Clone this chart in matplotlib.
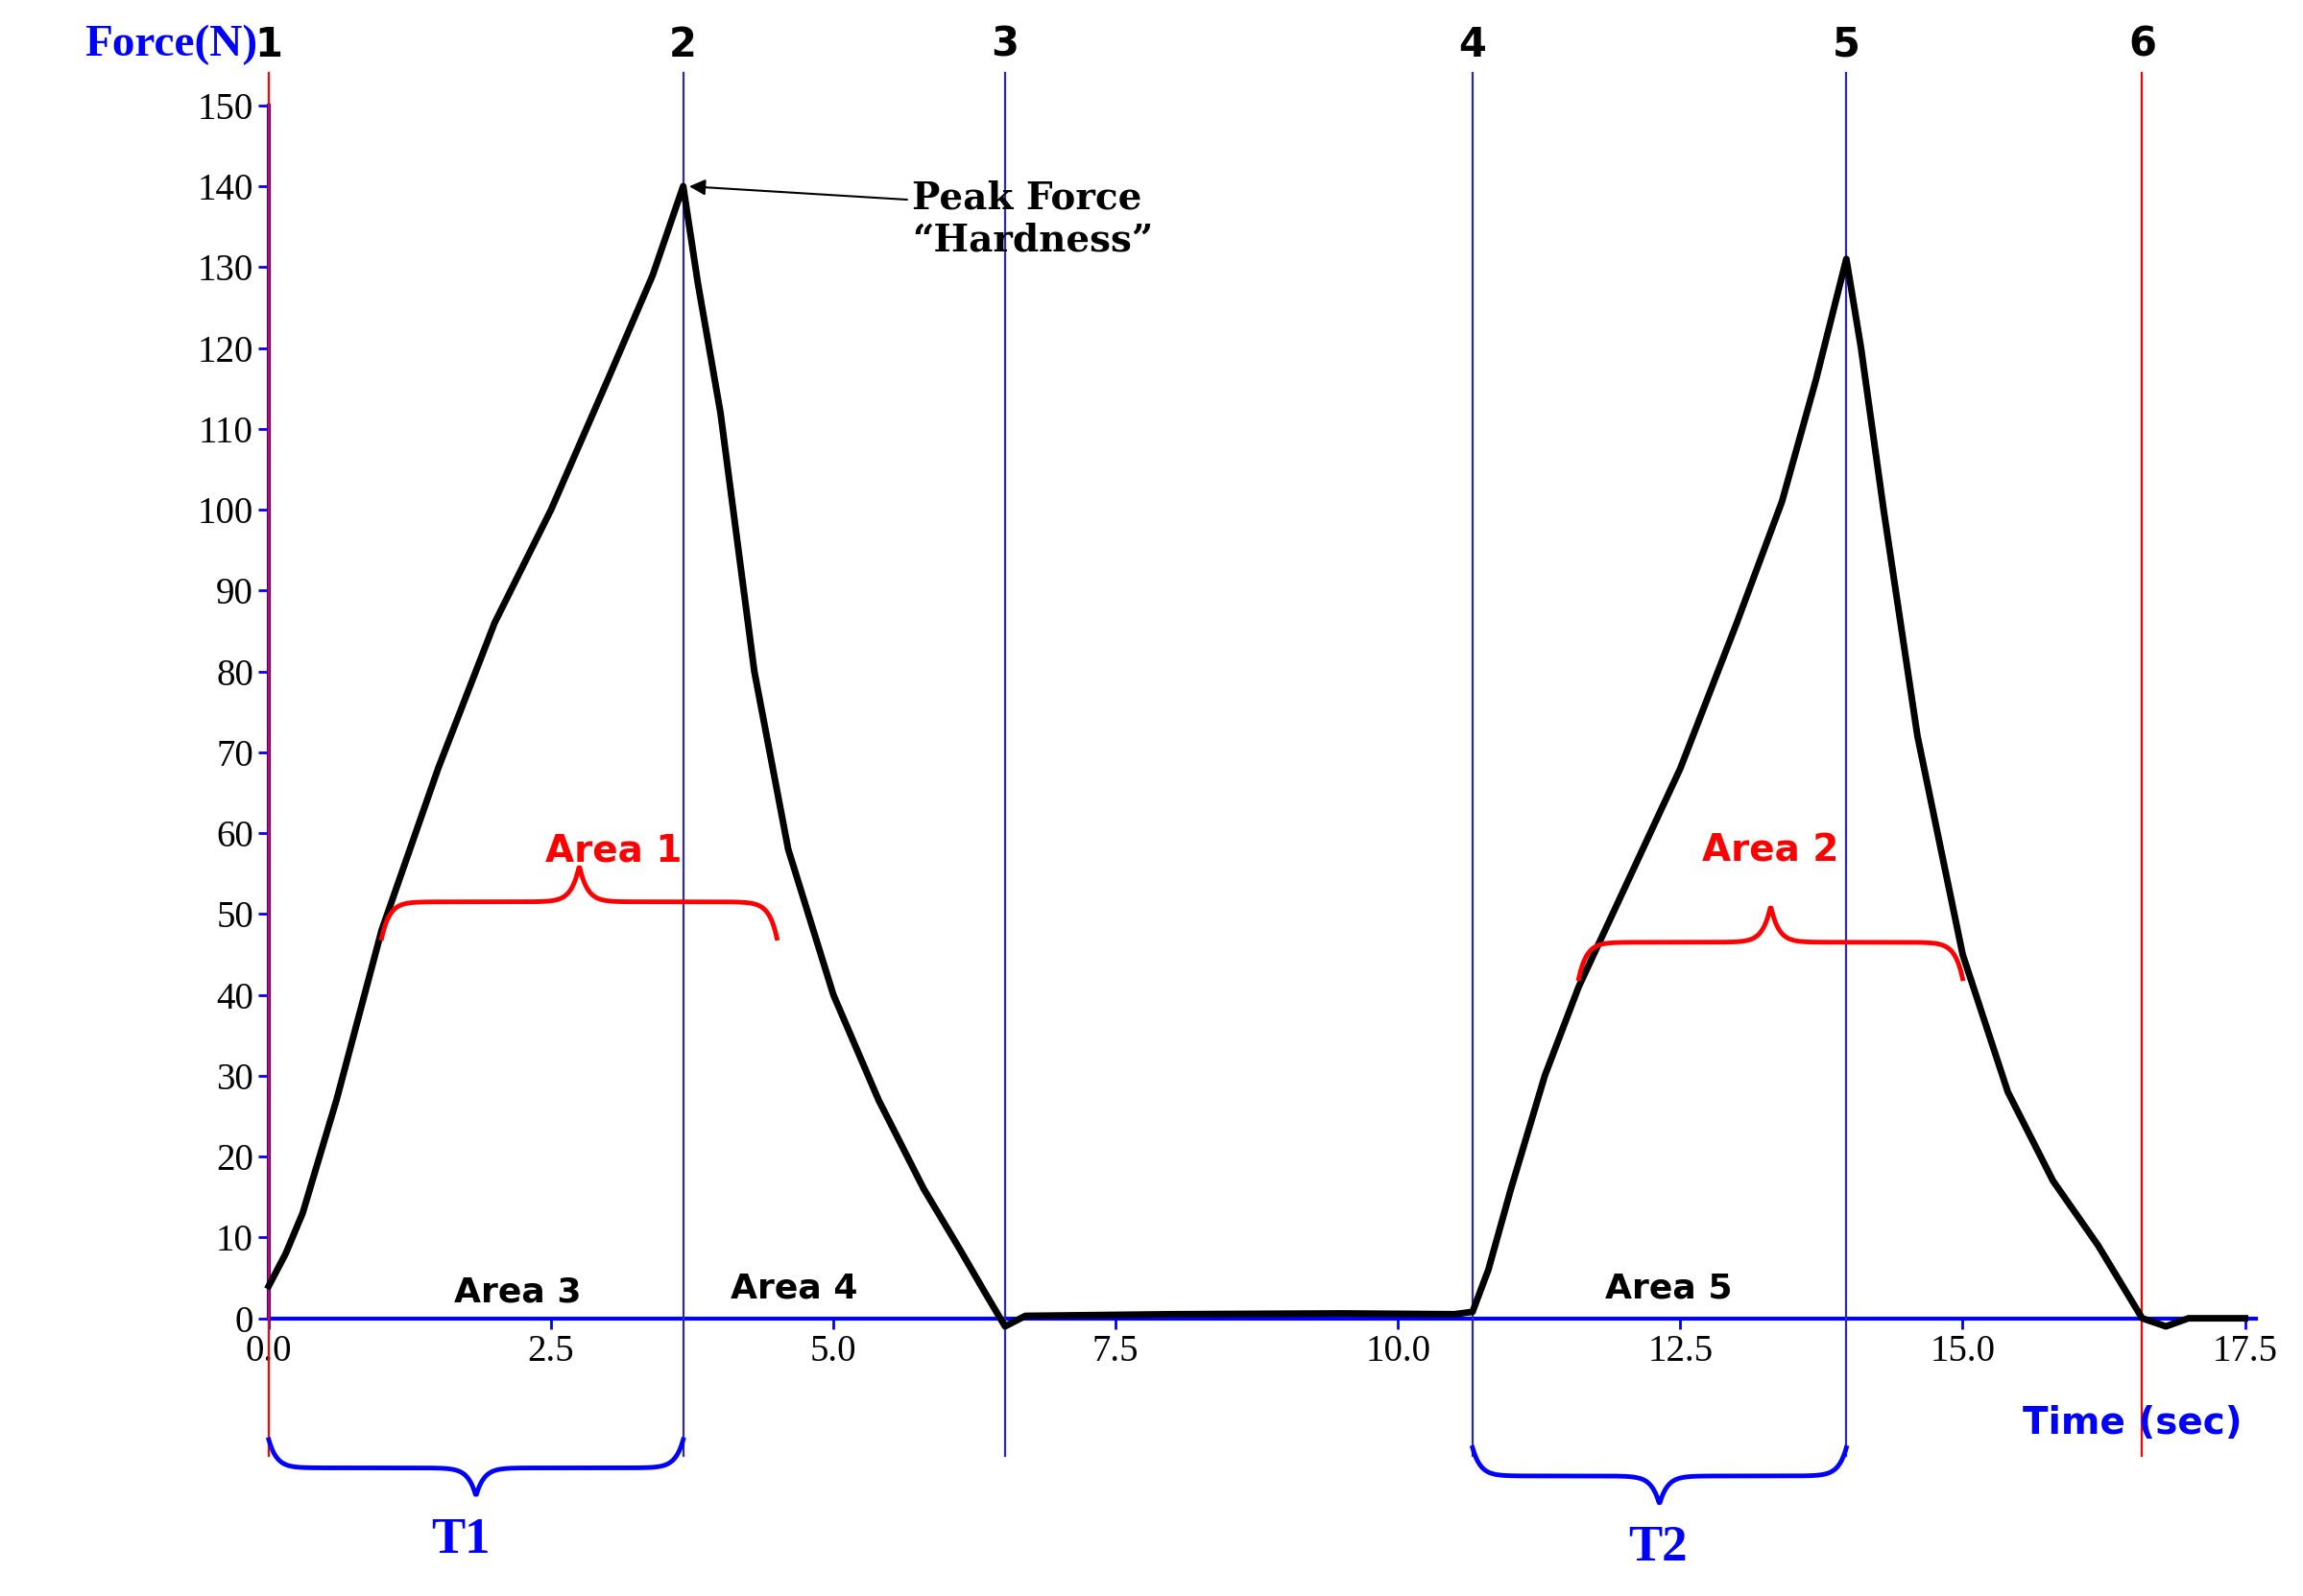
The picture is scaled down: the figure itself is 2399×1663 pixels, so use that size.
import matplotlib
matplotlib.use("Agg")
import matplotlib.pyplot as plt
import numpy as np

time_s = [0.0, 0.15, 0.3, 0.6, 1.0, 1.5, 2.0, 2.5, 3.0, 3.4, 3.67, 3.8, 4.0, 4.3, 4.6, 5.0, 5.4, 5.8, 6.1, 6.35, 6.52, 6.7,
          8.0, 9.5, 10.5, 10.66, 10.8, 11.0, 11.3, 11.6, 12.0, 12.5, 13.0, 13.4, 13.7, 13.97, 14.1, 14.3, 14.6, 15.0,
          15.4, 15.8, 16.2, 16.59, 16.8, 17.0, 17.5]
force_n = [4, 8, 13, 27, 48, 68, 86, 100, 116, 129, 140, 128, 112, 80, 58, 40, 27, 16, 9, 3, -1, 0.3,
           0.5, 0.6, 0.5, 0.8, 6, 16, 30, 41, 53, 68, 86, 101, 116, 131, 120, 100, 72, 45,
           28, 17, 9, 0, -1, 0, 0]
marker_x = [0.0, 3.67, 6.52, 10.66, 13.97, 16.59]
marker_lbl = ["1", "2", "3", "4", "5", "6"]
marker_col = ["red", "#2a2aaa", "#2a2aaa", "#2a2aaa", "#2a2aaa", "red"]
yticks = list(range(0, 151, 10))
xticks = [0.0, 2.5, 5.0, 7.5, 10.0, 12.5, 15.0, 17.5]

fig = plt.figure(figsize=(23.99, 16.63), dpi=100)
ax = fig.add_axes([0.1167, 0.174, 0.863, 0.760])
ax.set_xlim(0, 17.6)
ax.set_ylim(0, 150)
ax.plot(time_s, force_n, color="black", lw=5, zorder=5, clip_on=False)
for s in ["top", "right"]:
    ax.spines[s].set_visible(False)
for s in ["left", "bottom"]:
    ax.spines[s].set_color("blue")
    ax.spines[s].set_linewidth(3)
ax.set_yticks(yticks)
ax.set_xticks(xticks)
ax.set_xticklabels([f"{v:.1f}" for v in xticks])
ax.tick_params(colors="blue", labelcolor="black", labelsize=28, length=8, width=2)
for lab in ax.get_xticklabels() + ax.get_yticklabels():
    lab.set_family("Liberation Serif")

for x, l, c in zip(marker_x, marker_lbl, marker_col):
    ax.plot([x, x], [-17, 154], color=c, lw=1.6, clip_on=False, zorder=3)
    ax.text(x, 157.5, l, ha="center", va="center", fontsize=30, fontweight="bold",
            family="DejaVu Sans")

ax.text(-0.1, 157.5, "Force(N)", ha="right", va="center", fontsize=34, fontweight="bold",
        color="blue", family="Liberation Serif")
ax.text(16.5, -13, "Time (sec)", ha="center", va="center", fontsize=28, fontweight="bold",
        color="blue", family="DejaVu Sans")

def brace(x0, x1, y, h, color, up=True):
    L = (x1 - x0) / 2
    w = 0.07
    xs = np.linspace(x0, x1, 400)
    u = np.minimum(xs - x0, x1 - xs)
    ys = h / 2 * (1 - np.exp(-u / w)) + h / 2 * np.exp(-(L - u) / w)
    sgn = 1 if up else -1
    ax.plot(xs, y + sgn * ys, color=color, lw=3.5, clip_on=False, zorder=6)

brace(1.0, 4.5, 47, 9, "red", True)
brace(11.6, 15.0, 42, 9, "red", True)
brace(0.0, 3.67, -15, 7, "blue", False)
brace(10.66, 13.97, -16, 7, "blue", False)

ax.text(3.05, 56.5, "Area 1", ha="center", fontsize=28, fontweight="bold", color="red", family="DejaVu Sans")
ax.text(13.3, 56.5, "Area 2", ha="center", fontsize=28, fontweight="bold", color="red", family="DejaVu Sans")
ax.text(2.2, 2, "Area 3", ha="center", fontsize=26, fontweight="bold", family="DejaVu Sans")
ax.text(4.65, 2.5, "Area 4", ha="center", fontsize=26, fontweight="bold", family="DejaVu Sans")
ax.text(12.4, 2.5, "Area 5", ha="center", fontsize=26, fontweight="bold", family="DejaVu Sans")
ax.text(1.7, -29, "T1", ha="center", fontsize=38, fontweight="bold", color="blue", family="Liberation Serif")
ax.text(12.3, -30, "T2", ha="center", fontsize=38, fontweight="bold", color="blue", family="Liberation Serif")
ax.annotate("Peak Force\n\u201cHardness\u201d", xy=(3.7, 140), xytext=(5.7, 131),
            fontsize=28, fontweight="bold", family="DejaVu Serif", ha="left", va="bottom",
            arrowprops=dict(arrowstyle="-|>", color="black", lw=1.5, mutation_scale=25,
                            relpos=(0, 0.75)))
fig.savefig("out.png", dpi=100)
